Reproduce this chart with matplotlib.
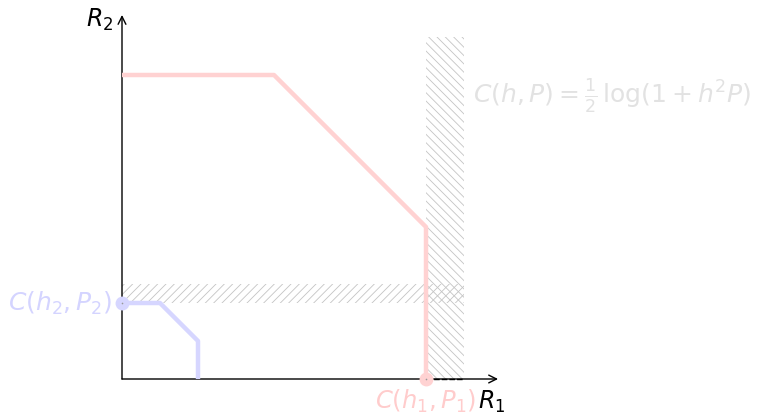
import matplotlib.pyplot as plt
from matplotlib.patches import Rectangle

plt.rcParams['mathtext.fontset'] = 'dejavusans'
plt.rcParams['hatch.linewidth'] = 0.6

# capacity regions (corner points) for the two users
strong_r1 = [0, 1, 2, 2]
strong_r2 = [2, 2, 1, 0]
weak_r1 = [0, 0.25, 0.5, 0.5]
weak_r2 = [0.5, 0.5, 0.25, 0]

# single-user capacity gaps shown as hatched strips
c1 = 2.0
c2 = 0.5
gap1 = 0.25
gap2 = 0.125
band_top = 2.25

red = '#ffd2d2'
blue = '#d6d6ff'
hatch_gray = '#c4c4c4'

fig = plt.figure(figsize=(7.6, 4.16), dpi=100)
ax = fig.add_axes([0, 0, 1, 1])
ax.set_xlim(-122 / 152, 638 / 152)
ax.set_ylim(-37 / 152, 379 / 152)
ax.axis('off')

# axes with arrows
arrow = dict(arrowstyle='->', lw=1.0, color='black', shrinkA=0, shrinkB=0, mutation_scale=14)
ax.annotate('', xy=(2.474, 0), xytext=(0, 0), arrowprops=arrow)
ax.annotate('', xy=(0, 2.395), xytext=(0, 0), arrowprops=arrow)

# hatched strips
ax.add_patch(Rectangle((c1, 0), gap1, band_top, facecolor='white', edgecolor=hatch_gray,
                       lw=0, hatch='\\\\\\\\', zorder=2))
ax.add_patch(Rectangle((0, c2), band_top, gap2, fill=False, edgecolor=hatch_gray,
                       lw=0, hatch='////', zorder=2))
ax.plot([c1, c1 + gap1], [0, 0], color='black', lw=1.0, ls=(0, (4, 1.5)), zorder=3)

# region boundaries
ax.plot(strong_r1, strong_r2, color=red, lw=3.2, solid_capstyle='butt', zorder=4)
ax.plot(weak_r1, weak_r2, color=blue, lw=3.2, solid_capstyle='butt', zorder=4)
ax.plot([c1], [0], 'o', ms=10, color=red, mec='none', zorder=5)
ax.plot([0], [c2], 'o', ms=10, color=blue, mec='none', zorder=5)
ax.plot([c1, 0], [0, c2], 'o', ms=1.2, color='#999999', mec='none', zorder=6)

# labels
ax.text(-0.145, 2.362, r'$R_2$', fontsize=17, ha='center', va='center')
ax.text(2.43, -0.151, r'$R_1$', fontsize=17, ha='center', va='center')
ax.text(c1, -0.145, r'$C(h_1, P_1)$', fontsize=17.5, color='#ffcccc', ha='center', va='center')
ax.text(-0.066, c2, r'$C(h_2, P_2)$', fontsize=18, color='#d4d4ff', ha='right', va='center')
ax.text(2.31, 1.862, r'$C(h, P) = \frac{1}{2}\,\log(1 + h^2 P)$', fontsize=18,
        color='#e2e2e2', ha='left', va='center')

fig.savefig('out.png', dpi=100)
